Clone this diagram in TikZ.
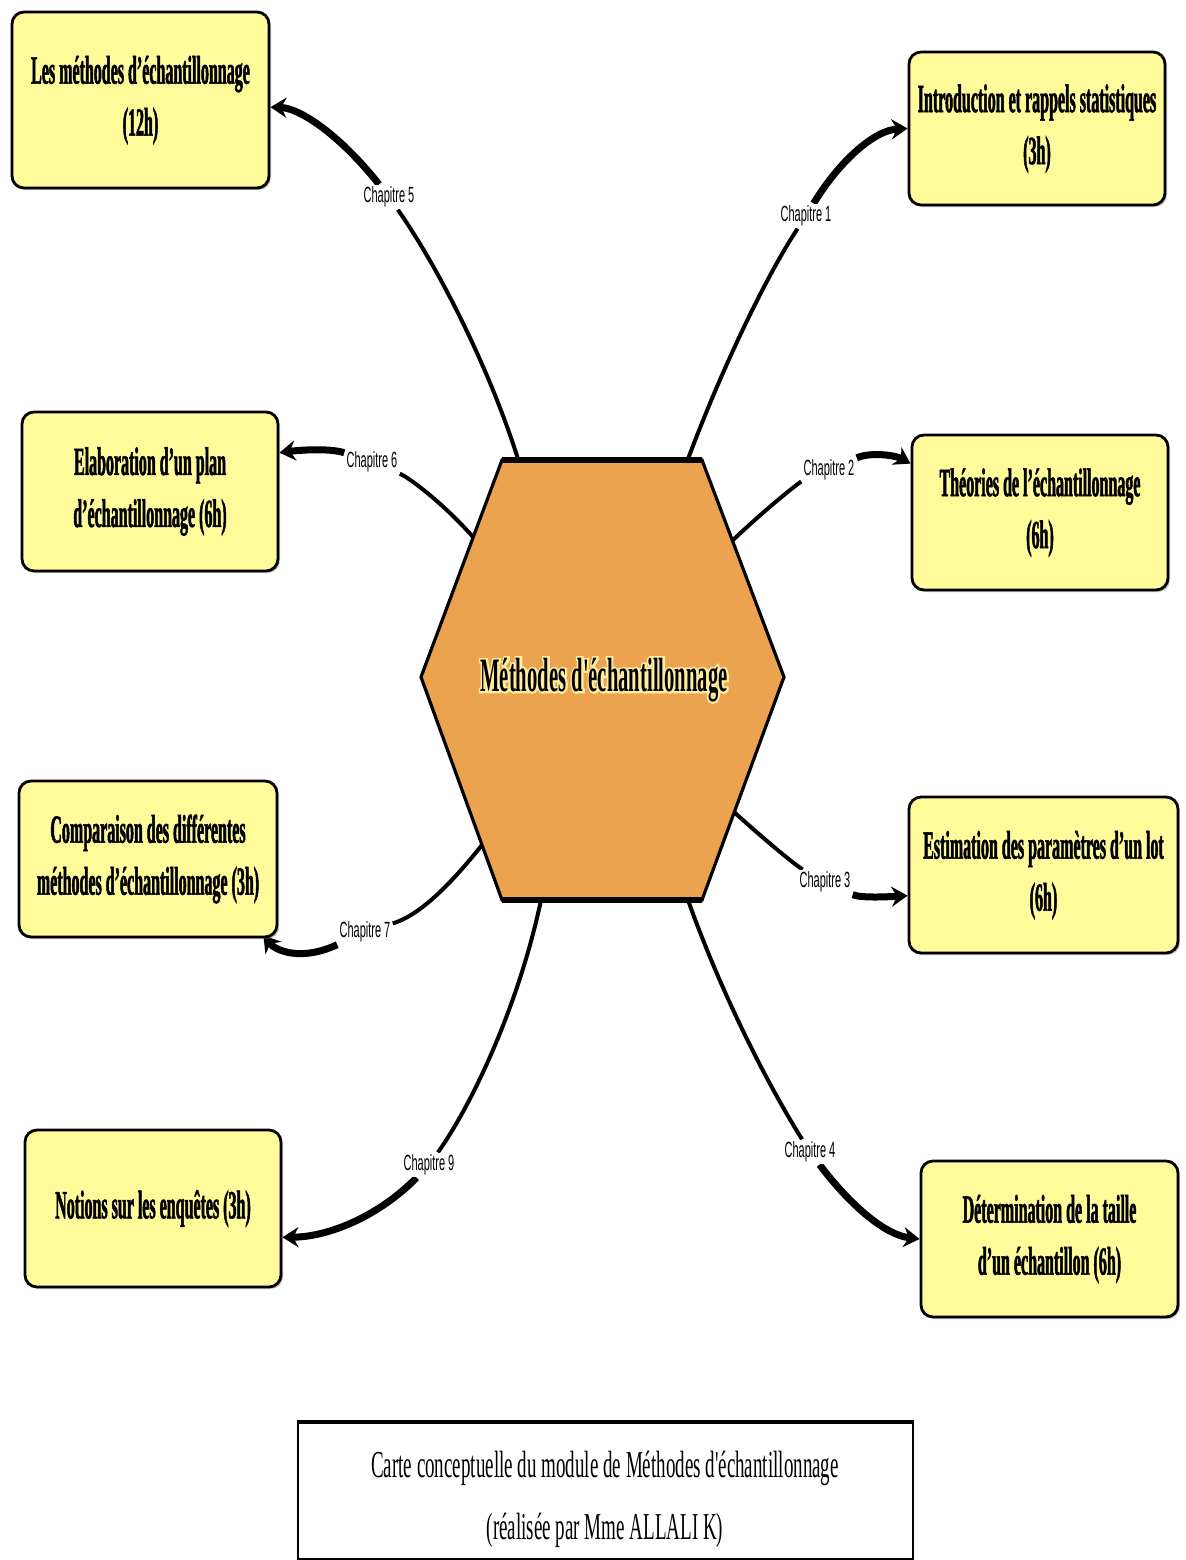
\documentclass[tikz,border=0pt]{standalone}
\usepackage{fontspec}
\setmainfont{Liberation Serif}
\newfontfamily\boxfont[FakeStretch=0.40, FakeBold=1.2]{Liberation Serif}
\newfontfamily\hexfont[FakeStretch=0.43]{Liberation Serif}
\newfontfamily\glowfont[FakeStretch=0.43, FakeBold=8]{Liberation Serif}
\newfontfamily\capfont[FakeStretch=0.5]{Liberation Serif}
\newfontfamily\labfont[FakeStretch=0.50]{Liberation Sans}
\usetikzlibrary{arrows.meta,calc,shadows,backgrounds}

\definecolor{boxyellow}{RGB}{255,251,155}
\definecolor{hexorange}{RGB}{235,163,79}
\definecolor{glowyellow}{RGB}{255,238,160}

\tikzset{
  chapbox/.style={draw=black, line width=1.4pt, rounded corners=6pt,
    fill=boxyellow, align=center, inner sep=0pt,
    font=\boxfont\bfseries\fontsize{20pt}{26pt}\selectfont,
    drop shadow={shadow xshift=1pt, shadow yshift=-1pt, opacity=.45}},
  thinlink/.style={line width=2pt},
  thicklink/.style={line width=3.5pt, -{Stealth[length=8pt,width=10pt]}},
  chap/.style={fill=white, inner sep=1pt,
    font=\labfont\fontsize{11pt}{12pt}\selectfont},
  hextext/.style={font=\hexfont\bfseries\fontsize{24pt}{28pt}\selectfont},
  hexglow/.style={font=\glowfont\bfseries\fontsize{24pt}{28pt}\selectfont, text=glowyellow}
}

\begin{document}
\begin{tikzpicture}[x=0.5pt, y=-0.5pt]
\useasboundingbox (0,0) rectangle (1186,1560);

% chapter boxes
\node[chapbox, minimum width=128.5pt, minimum height=88pt] (b5) at (140.5,100)
  {Les méthodes d’échantillonnage\\(12h)};
\node[chapbox, minimum width=128pt, minimum height=76.5pt] (b1) at (1037,128.5)
  {Introduction et rappels statistiques\\(3h)};
\node[chapbox, minimum width=128pt, minimum height=79.5pt] (b6) at (150,491.5)
  {Elaboration d’un plan\\d’échantillonnage (6h)};
\node[chapbox, minimum width=128pt, minimum height=77.5pt] (b2) at (1040,512.5)
  {Théories de l’échantillonnage\\(6h)};
\node[chapbox, minimum width=129pt, minimum height=78pt] (b7) at (148,859)
  {Comparaison des différentes\\méthodes d’échantillonnage (3h)};
\node[chapbox, minimum width=134.5pt, minimum height=78pt] (b3) at (1043.5,875)
  {Estimation des paramètres d’un lot\\(6h)};
\node[chapbox, minimum width=128pt, minimum height=78.5pt] (b9) at (153,1208.5)
  {Notions sur les enquêtes (3h)};
\node[chapbox, minimum width=128.5pt, minimum height=78pt] (b4) at (1049.5,1239)
  {Détermination de la taille\\d’un échantillon (6h)};

% points where the links leave the hexagon
\coordinate (s1) at (688,459);
\coordinate (s2) at (733,540);
\coordinate (s3) at (734,812);
\coordinate (s4) at (688,900);
\coordinate (s5) at (518,459);
\coordinate (s6) at (473,537);
\coordinate (s7) at (482,845);
\coordinate (s9) at (541,900);

% link labels
\node[chap] (l1) at (806,216) {Chapitre 1};
\node[chap] (l2) at (829,470) {Chapitre 2};
\node[chap] (l3) at (825,882) {Chapitre 3};
\node[chap] (l4) at (810,1152) {Chapitre 4};
\node[chap] (l5) at (389,197) {Chapitre 5};
\node[chap] (l6) at (372,462) {Chapitre 6};
\node[chap] (l7) at (365,932) {Chapitre 7};
\node[chap] (l9) at (429,1165) {Chapitre 9};

% links: thin part from the hexagon, thick arrowed part to the box
\begin{scope}[on background layer]
\draw[thinlink] (s1) .. controls (725,360) and (770,270) .. (l1);
\draw[thicklink] (l1) .. controls (840,160) and (875,130) .. (b1.west);

\draw[thinlink] (s2) .. controls (770,505) and (800,482) .. (l2);
\draw[thicklink] (l2) .. controls (870,452) and (895,455) .. ($(b2.north west)!0.19!(b2.south west)$);

\draw[thinlink] (s3) .. controls (765,840) and (795,865) .. (l3);
\draw[thicklink] (l3) .. controls (860,898) and (885,897) .. ($(b3.north west)!0.63!(b3.south west)$);

\draw[thinlink] (s4) .. controls (720,990) and (765,1080) .. (l4);
\draw[thicklink] (l4) .. controls (850,1205) and (885,1235) .. (b4.west);

\draw[thinlink] (s5) .. controls (490,370) and (440,270) .. (l5);
\draw[thicklink] (l5) .. controls (340,135) and (300,108) .. ($(b5.north east)!0.54!(b5.south east)$);

\draw[thinlink] (s6) .. controls (445,505) and (410,478) .. (l6);
\draw[thicklink] (l6) .. controls (330,448) and (300,450) .. ($(b6.north east)!0.26!(b6.south east)$);

\draw[thinlink] (s7) .. controls (450,885) and (420,915) .. (l7);
\draw[thicklink] (l7.south west) .. controls (300,962) and (275,950) .. ($(b7.south east)+(-15,-3)$);

\draw[thinlink] (s9) .. controls (520,1000) and (475,1100) .. (l9);
\draw[thicklink] (l9) .. controls (380,1215) and (330,1237) .. ($(b9.north east)!0.68!(b9.south east)$);
\end{scope}

% central hexagon (top and bottom edges drawn heavier)
\filldraw[fill=hexorange, draw=black, line width=1.6pt, line join=miter]
  (502,460) -- (702,460) -- (784,677) -- (702,900) -- (502,900) -- (421,677) -- cycle;
\draw[line width=2.6pt] (502,460) -- (702,460);
\draw[line width=2.6pt] (502,900) -- (702,900);
\node[hexglow] (hexglow) at (604,680) {Méthodes d'échantillonnage};
\node[hextext] (hexc) at (604,680) {Méthodes d'échantillonnage};

% caption frame
\node[draw=black, line width=1pt, minimum width=307.5pt, minimum height=68pt, inner sep=0pt]
  (frame) at (605.5,1491) {};
\draw[line width=2pt] (frame.north west) -- (frame.north east);
\node[align=center, font=\capfont\fontsize{19pt}{31pt}\selectfont] (caption) at (605,1499)
  {Carte conceptuelle du module de Méthodes d'échantillonnage\\(réalisée par Mme ALLALI K)};
\end{tikzpicture}
\end{document}
